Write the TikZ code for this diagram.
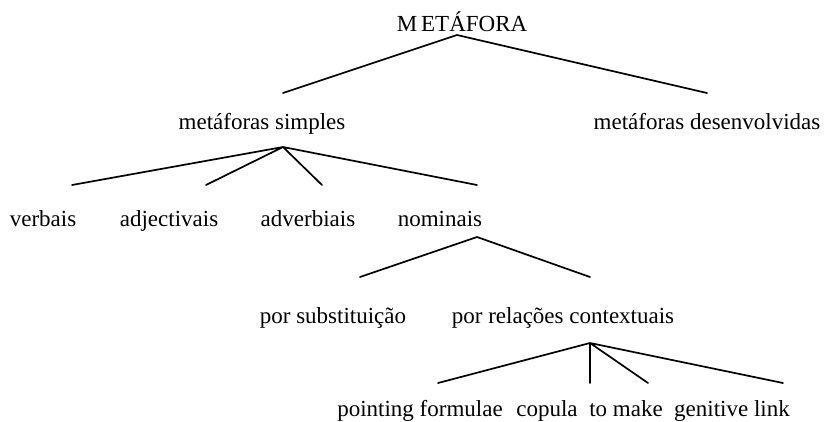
\documentclass[tikz,border=0pt]{standalone}
\usepackage{fontspec}
\setmainfont{Liberation Serif}
\begin{document}
\begin{tikzpicture}[x=1pt,y=-1pt,
  lbl/.style={anchor=base,inner sep=0pt,font=\fontsize{23}{27}\selectfont},
  br/.style={line width=1.7pt,line cap=round}]
\useasboundingbox (0,0) rectangle (826,421);
% labels
\node[lbl] (meta) at (462,31) {M\kern4pt ETÁFORA};
\node[lbl] (simp) at (262,129) {metáforas simples};
\node[lbl] (desv) at (707,129) {metáforas desenvolvidas};
\node[lbl] (verb) at (43,226) {verbais};
\node[lbl] (adje) at (169,226) {adjectivais};
\node[lbl] (adve) at (308,226) {adverbiais};
\node[lbl] (nomi) at (440,226) {nominais};
\node[lbl] (subs) at (333,323) {por substituição};
\node[lbl] (cont) at (563,323) {por relações contextuais};
\node[lbl] (poin) at (420,416) {pointing formulae};
\node[lbl] (copu) at (547,416) {copula};
\node[lbl] (make) at (626,416) {to make};
\node[lbl] (geni) at (732,416) {genitive link};
% branch points
\coordinate (a0) at (457,35);
\coordinate (a1) at (283,93);
\coordinate (a2) at (707,93);
\coordinate (b0) at (283,147);
\coordinate (b1) at (72,185);
\coordinate (b2) at (206,185);
\coordinate (b3) at (322,185);
\coordinate (b4) at (477,185);
\coordinate (c0) at (477,237);
\coordinate (c1) at (360,277);
\coordinate (c2) at (590,277);
\coordinate (d0) at (590,343);
\coordinate (d1) at (438,383);
\coordinate (d2) at (590,383);
\coordinate (d3) at (648,383);
\coordinate (d4) at (783,383);
\draw[br] (a1) -- (a0) -- (a2);
\draw[br] (b0) -- (b1) (b0) -- (b2) (b0) -- (b3) (b0) -- (b4);
\draw[br] (c1) -- (c0) -- (c2);
\draw[br] (d0) -- (d1) (d0) -- (d2) (d0) -- (d3) (d0) -- (d4);
\end{tikzpicture}
\end{document}
